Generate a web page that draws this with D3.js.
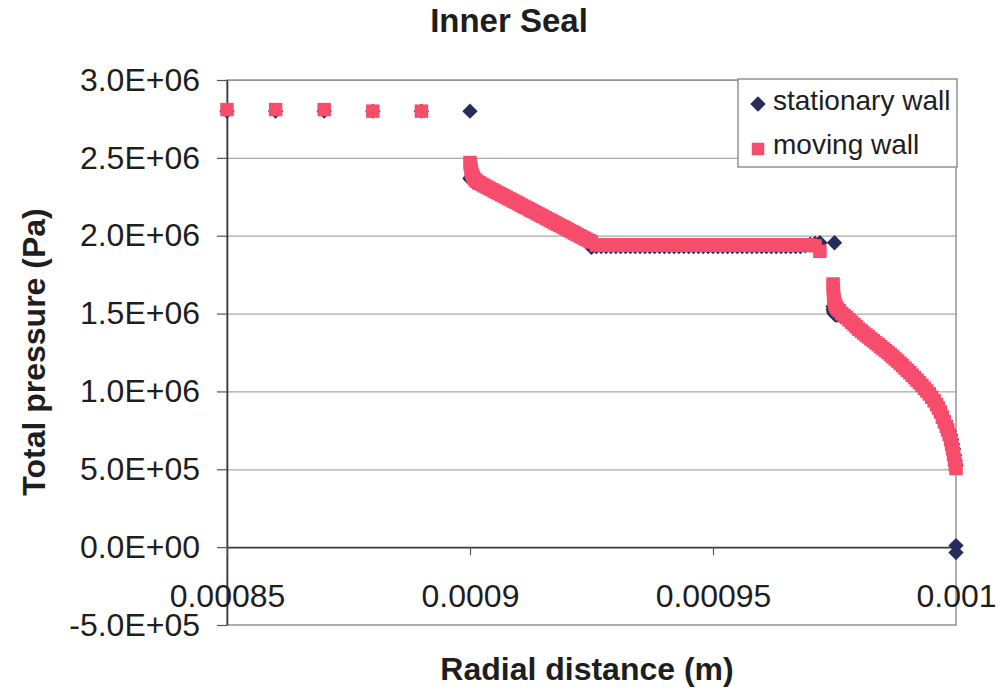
<!DOCTYPE html>
<html><head><meta charset="utf-8">
<script src="https://cdn.jsdelivr.net/npm/d3@7"></script>
<style>
body{margin:0;background:#fff}
svg{display:block}
text{font-family:"Liberation Sans",Arial,sans-serif;fill:#1e1e1e}
</style>
</head><body>
<svg id="chart" width="1000" height="694"></svg>
<script>
// ---------- data (radius in micrometres, pressure in MPa) ----------
const chartTitle = "Inner Seal";
const xTitle = "Radial distance (m)";
const yTitle = "Total pressure (Pa)";
const seriesNames = ["stationary wall", "moving wall"];
const xTickValues = [850, 900, 950, 1000];
const xTickLabels = ["0.00085", "0.0009", "0.00095", "0.001"];
const yTickValues = [-0.5, 0, 0.5, 1, 1.5, 2, 2.5, 3];
const yTickLabels = ["-5.0E+05", "0.0E+00", "5.0E+05", "1.0E+06", "1.5E+06", "2.0E+06", "2.5E+06", "3.0E+06"];

const radiusInlet = [850, 860, 870, 880, 890, 900];
const stationaryInlet = [2.80, 2.80, 2.80, 2.80, 2.80, 2.80];
const movingInlet = [2.81, 2.81, 2.81, 2.80, 2.80, null];

const radiusSealA = [900,900.1,900.2,900.3,900.5,900.7,901,901.4,901.8,902,902.5,903,903.5,904,904.5,905,905.5,906,906.5,907,907.5,908,908.5,909,909.5,910,910.5,911,911.5,912,912.5,913,913.5,914,914.5,915,915.5,916,916.5,917,917.5,918,918.5,919,919.5,920,920.5,921,921.5,922,922.5,923,923.5,924,924.5,925];
const movingSealA = [2.47,2.45,2.43,2.41,2.39,2.375,2.36,2.35,2.34,2.337,2.329,2.320,2.312,2.304,2.296,2.287,2.279,2.271,2.263,2.255,2.246,2.238,2.230,2.222,2.214,2.206,2.197,2.189,2.181,2.173,2.164,2.156,2.148,2.140,2.132,2.124,2.115,2.107,2.099,2.091,2.082,2.074,2.066,2.058,2.050,2.042,2.033,2.025,2.017,2.009,2.000,1.992,1.984,1.976,1.968,1.960];
const stationarySealA = [2.37,2.366,2.362,2.358,2.352,2.347,2.342,2.338,2.335,2.332,2.324,2.315,2.307,2.299,2.291,2.282,2.274,2.266,2.258,2.250,2.241,2.233,2.225,2.217,2.209,2.201,2.192,2.184,2.176,2.168,2.159,2.151,2.143,2.135,2.127,2.119,2.110,2.102,2.094,2.086,2.077,2.069,2.061,2.053,2.045,2.037,2.028,2.020,2.012,2.004,1.995,1.987,1.979,1.968,1.950,1.925];

const radiusGap = [926,927,928,929,930,931,932,933,934,935,936,937,938,939,940,941,942,943,944,945,946,947,948,949,950,951,952,953,954,955,956,957,958,959,960,961,962,963,964,965,966,967,968,969,970,971,972];
const movingGap = [1.94,1.94,1.94,1.94,1.94,1.94,1.94,1.94,1.94,1.94,1.94,1.94,1.94,1.94,1.94,1.94,1.94,1.94,1.94,1.94,1.94,1.94,1.94,1.94,1.94,1.94,1.94,1.94,1.94,1.94,1.94,1.94,1.94,1.94,1.94,1.94,1.94,1.94,1.94,1.94,1.94,1.94,1.94,1.94,1.94,1.935,1.90];
const stationaryGap = [1.93,1.93,1.93,1.93,1.93,1.93,1.93,1.93,1.93,1.93,1.93,1.93,1.93,1.93,1.93,1.93,1.93,1.93,1.93,1.93,1.93,1.93,1.93,1.93,1.93,1.93,1.93,1.93,1.93,1.93,1.93,1.93,1.93,1.93,1.93,1.93,1.93,1.93,1.93,1.93,1.93,1.93,1.93,1.935,1.945,1.95,1.955];

const radiusStep = [975];
const stationaryStep = [1.955];

const radiusSealC = [974.7,974.75,974.8,974.85,974.95,975.1,975.3,975.6,976,976.5,977,977.5,978,978.5,979,979.5,980,980.5,981,981.5,982,982.5,983,983.5,984,984.5,985,985.5,986,986.5,987,987.5,988,988.5,989,989.5,990,990.5,991,991.5,992,992.5,993,993.5,994,994.5,995,995.5,996,996.4,996.8,997.2,997.6,998,998.3,998.6,998.9,999.1,999.3,999.5,999.7,999.85,1000];
const movingSealC = [1.69,1.66,1.63,1.60,1.58,1.56,1.545,1.53,1.518,1.50,1.487,1.474,1.459,1.445,1.43,1.415,1.40,1.388,1.375,1.362,1.35,1.337,1.325,1.312,1.30,1.287,1.275,1.262,1.25,1.236,1.222,1.208,1.195,1.18,1.166,1.15,1.135,1.12,1.104,1.088,1.072,1.055,1.038,1.02,1.003,0.984,0.963,0.94,0.915,0.893,0.868,0.835,0.805,0.775,0.752,0.722,0.69,0.662,0.632,0.595,0.56,0.53,0.505];
const stationarySealC = [1.545,1.53,1.52,1.51,1.50,1.495,1.49,1.49,1.49,1.485,1.478,1.47,1.459,1.445,1.43,1.415,1.40,1.388,1.375,1.362,1.35,1.337,1.325,1.312,1.30,1.287,1.275,1.262,1.25,1.236,1.222,1.208,1.195,1.18,1.166,1.15,1.135,1.12,1.104,1.088,1.072,1.055,1.038,1.02,1.003,0.984,0.963,0.94,0.915,0.893,0.868,0.835,0.805,0.775,0.755,0.745,0.72,0.69,0.66,0.63,0.59,0.555,0.525];

const radiusOutlet = [1000, 1000];
const stationaryOutlet = [0.01, -0.035];

const colorStationary = "#272c5c";
const colorMoving = "#f74d6c";

// ---------- build ----------
function pts(xs, ys) { return xs.map((v, i) => ({x: v, y: ys[i]})).filter(d => d.y != null); }
const stationaryPts = [].concat(
  pts(radiusInlet, stationaryInlet), pts(radiusSealA, stationarySealA), pts(radiusGap, stationaryGap),
  pts(radiusStep, stationaryStep), pts(radiusSealC, stationarySealC), pts(radiusOutlet, stationaryOutlet));
const movingPts = [].concat(
  pts(radiusInlet, movingInlet), pts(radiusSealA, movingSealA), pts(radiusGap, movingGap), pts(radiusSealC, movingSealC));

const svg = d3.select("#chart");
svg.append("rect").attr("width", 1000).attr("height", 694).attr("fill", "#fff");

const x = d3.scaleLinear().domain([850, 1000]).range([227, 956]);
const y = d3.scaleLinear().domain([-0.5, 3]).range([625, 80]);
const W = x(1000) - x(850);

// gridlines
const grid = svg.append("g").attr("transform", `translate(${x(850)},0)`)
  .call(d3.axisLeft(y).tickValues(yTickValues.filter(v => v > 0)).tickSize(-W).tickFormat(""));
grid.select(".domain").remove();
grid.selectAll("line").attr("stroke", "#a9a9a9").attr("stroke-width", 1.2);

// plot frame
svg.append("rect").attr("x", x(850)).attr("y", y(3)).attr("width", W).attr("height", y(-0.5) - y(3))
  .attr("fill", "none").attr("stroke", "#8c8c8c").attr("stroke-width", 1.4);

// y axis
const yAxis = svg.append("g").attr("transform", `translate(${x(850)},0)`)
  .call(d3.axisLeft(y).tickValues(yTickValues).tickFormat(d => yTickLabels[yTickValues.indexOf(d)])
    .tickSizeInner(10).tickSizeOuter(0).tickPadding(17));
yAxis.select(".domain").attr("stroke", "#3a3a3a").attr("stroke-width", 1.6);
yAxis.selectAll(".tick line").attr("stroke", "#555").attr("stroke-width", 1.2);
yAxis.selectAll("text").attr("font-size", 32).attr("font-family", "Liberation Sans, Arial, sans-serif").attr("fill", "#1e1e1e");

// x axis at zero
const xAxis = svg.append("g").attr("transform", `translate(0,${y(0)})`)
  .call(d3.axisBottom(x).tickValues(xTickValues).tickFormat(d => xTickLabels[xTickValues.indexOf(d)])
    .tickSizeInner(8).tickSizeOuter(0).tickPadding(29));
xAxis.select(".domain").attr("stroke", "#3a3a3a").attr("stroke-width", 1.6);
xAxis.selectAll(".tick line").attr("stroke", "#555").attr("stroke-width", 1.2);
xAxis.selectAll("text").attr("font-size", 32).attr("font-family", "Liberation Sans, Arial, sans-serif").attr("fill", "#1e1e1e");

// markers
const diamond = d3.symbol(d3.symbolSquare, 118)();
const square = d3.symbol(d3.symbolSquare, 182)();
svg.append("g").selectAll("path").data(stationaryPts).join("path")
  .attr("d", diamond).attr("fill", colorStationary)
  .attr("transform", d => `translate(${x(d.x)},${y(d.y)}) rotate(45)`);
svg.append("g").selectAll("path").data(movingPts).join("path")
  .attr("d", square).attr("fill", colorMoving)
  .attr("transform", d => `translate(${x(d.x)},${y(d.y)})`);

// legend
const lg = svg.append("g");
lg.append("rect").attr("x", 738).attr("y", 79).attr("width", 219).attr("height", 88)
  .attr("fill", "#fff").attr("stroke", "#8c8c8c").attr("stroke-width", 1.4);
lg.append("path").attr("d", diamond).attr("fill", colorStationary).attr("transform", "translate(758,104) rotate(45)");
lg.append("path").attr("d", d3.symbol(d3.symbolSquare, 156)()).attr("fill", colorMoving).attr("transform", "translate(758,149)");
lg.append("text").attr("x", 773).attr("y", 110).attr("font-size", 28).text(seriesNames[0]);
lg.append("text").attr("x", 773).attr("y", 154).attr("font-size", 28).text(seriesNames[1]);

// titles
svg.append("text").attr("x", 509).attr("y", 32).attr("text-anchor", "middle")
  .attr("font-size", 33).attr("font-weight", "bold").text(chartTitle);
svg.append("text").attr("x", 587).attr("y", 680).attr("text-anchor", "middle")
  .attr("font-size", 32).attr("font-weight", "bold").text(xTitle);
svg.append("text").attr("transform", "translate(45,352) rotate(-90)").attr("text-anchor", "middle")
  .attr("font-size", 32).attr("font-weight", "bold").text(yTitle);
</script>
</body></html>
